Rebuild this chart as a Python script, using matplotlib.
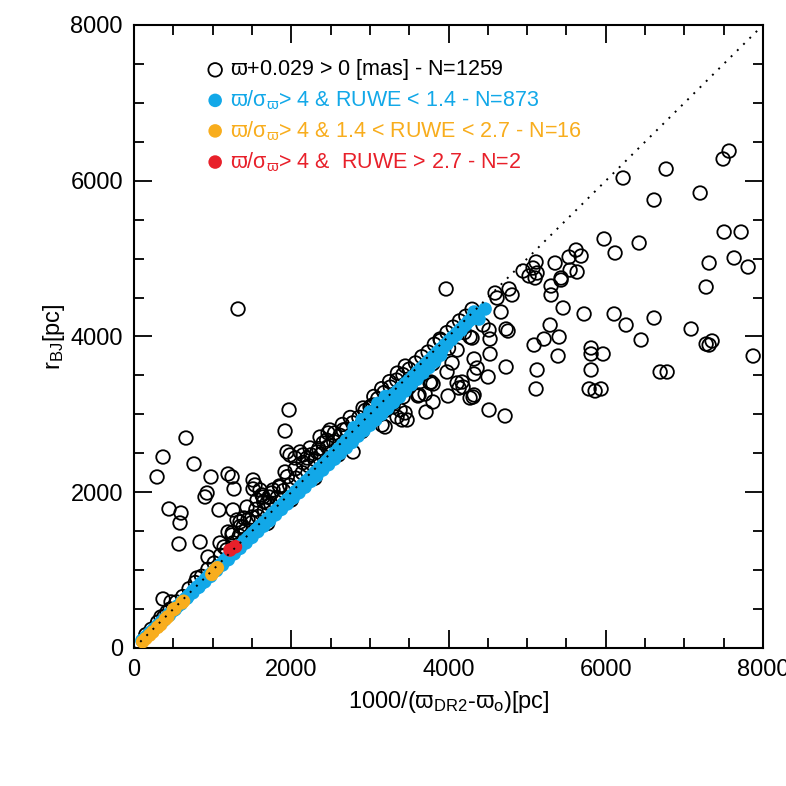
import numpy as np
import matplotlib.pyplot as plt

plt.rcParams['font.family'] = ['Liberation Sans', 'DejaVu Sans']
plt.rcParams['mathtext.fontset'] = 'custom'
plt.rcParams['mathtext.rm'] = 'Liberation Sans'
plt.rcParams['mathtext.it'] = 'Liberation Sans'
plt.rcParams['mathtext.bf'] = 'Liberation Sans:bold'

BLUE = '#12a8e8'
ORANGE = '#f8ad1d'
RED = '#e8202a'

# open circles: all stars with parallax + 0.029 > 0 (visible ones)
all_x = [6220, 6767, 6614, 7200, 7492, 7568, 5978, 6118, 6424, 7505, 7721, 7314, 7632, 7810,
         5355, 5533, 5622, 5686, 5546, 5635, 4948, 5113, 5075, 5126, 5431, 7276, 7874, 5724,
         6106, 6258, 6614, 6449, 7085, 7276, 7314, 7352, 6691, 6780, 5813, 5813, 5966, 5813,
         5788, 5864, 5940, 5457, 5292, 5406, 5215, 5088, 5393, 5126, 5113, 5304, 5304, 5431,
         5024, 5101, 4592, 4617, 4770, 4808, 4668, 4732, 4757, 4528, 4528, 4732, 4503, 4515,
         4719, 4325, 4363, 4325, 4325, 4274, 4439, 4515, 4299, 3969, 4172, 4185, 4134, 4109,
         3981, 4045, 3994, 3803, 3625, 3702, 3714, 3803, 3778, 3447, 3473, 3409, 4109, 3892,
         4274, 4312, 3765, 3612, 3511, 3422, 3294, 3345, 3384, 3193, 3155, 3193, 3040, 3002,
         2913, 2658, 2493, 2786,
         1972, 1921, 1323, 1514, 1539, 1437, 1921, 1946, 1984, 2112, 2150, 2048, 2201, 2366,
         2468, 2404, 2328, 2239, 2595, 2748, 2811, 2875, 2964, 3027, 3002, 1603, 1641, 1692,
         1565, 1768, 1857, 1348, 1386, 661, 369, 293, 763, 979, 1196, 1247, 1272, 929, 903,
         445, 598, 585, 572, 1081, 1259, 840, 941, 1514, 1196, 1094, 1145, 1247, 801, 369,
         471, 343, 420, 1628, 1717, 1399, 1501, 1310,
         150, 220, 300, 380, 460, 540, 620, 700, 780, 860, 940, 1020, 1100, 1180, 1260, 1340,
         1420, 1500, 1580, 1660, 1740, 1820, 1900, 1980, 2060, 2140, 2220, 2300, 2380, 2460,
         2540, 2620, 2700, 2780, 2860, 2940, 3020, 3100, 3180, 3260, 3340, 3420, 3500, 3580,
         3660, 3740, 3820, 3900, 3980, 4060, 4140, 4220, 4300,
         1700, 2000, 2300, 2600, 2900, 3200, 3500, 3800, 4000, 4200, 3300, 3650,
         1250, 1350, 1450, 1550, 1650, 1750, 1850, 1950, 2050, 2150, 2250, 2350, 2450, 2550,
         2650, 2750, 3050, 3150, 3250, 3350, 3450]
all_y = [6035, 6150, 5752, 5842, 6279, 6381, 5252, 5072, 5200, 5341, 5341, 4943, 5008, 4892,
         4943, 5020, 5110, 5033, 4853, 4828, 4841, 4956, 4879, 4815, 4751, 4635, 3749, 4289,
         4289, 4147, 4237, 3955, 4096, 3903, 3890, 3942, 3544, 3544, 3852, 3775, 3775, 3570,
         3326, 3300, 3326, 4366, 4147, 3993, 3967, 3890, 3749, 3570, 3326, 4648, 4533, 4725,
         4777, 4751, 4558, 4494, 4610, 4533, 4314, 4096, 4070, 3967, 3775, 3608, 3480, 3056,
         2979, 3711, 3595, 3518, 3249, 3210, 4147, 4083, 3980, 4610, 3415, 3351, 3338, 3403,
         3544, 3659, 3236, 3159, 3249, 3261, 3030, 3390, 3415, 3018, 2928, 2928, 3826, 3967,
         3993, 3223, 3403, 3236, 3377, 3223, 3094, 2966, 3056, 3094, 2863, 2838, 3120, 3018,
         3082, 2799, 2799, 2517,
         3056, 2786, 4353, 2157, 2093, 1810, 2260, 2517, 2478, 2517, 2478, 2440, 2440, 2709,
         2761, 2632, 2517, 2568, 2568, 2671, 2761, 2799, 2902, 2992, 3094, 2029, 1939, 1862,
         1900, 2029, 2067, 1618, 1554, 2696, 2452, 2196, 2363, 2196, 2234, 2196, 2042, 1990, 1939,
         1785, 1733, 1605, 1335, 1772, 1772, 1361, 1168, 2042, 1489, 1348, 1297, 1451, 899, 629,
         591, 398, 462, 1965, 1939, 1669, 1682, 1644,
         170, 240, 330, 400, 500, 590, 660, 760, 840, 920, 1010, 1090, 1190, 1260, 1350, 1440,
         1510, 1610, 1690, 1770, 1850, 1930, 2020, 2090, 2180, 2250, 2340, 2420, 2490, 2580,
         2650, 2730, 2810, 2890, 2960, 3050, 3110, 3200, 3280, 3350, 3440, 3510, 3580, 3660,
         3740, 3800, 3900, 3950, 4050, 4120, 4200, 4260, 4350,
         1600, 1900, 2180, 2480, 2780, 3050, 3350, 3650, 3850, 4050, 3150, 3500,
         1480, 1560, 1650, 1780, 1880, 1990, 2080, 2200, 2300, 2380, 2480, 2560, 2670, 2760,
         2870, 2960, 3230, 3330, 3420, 3530, 3620]

# filled: parallax/sigma > 4, RUWE < 1.4
good_x = [110, 160, 210, 260, 320, 380, 440, 500, 560, 620, 680, 740, 800, 860, 920, 980,
          1040, 1100, 1160, 1220, 1280, 1340, 1400, 1460, 1520, 1580, 1640, 1700, 1760, 1820,
          1880, 1940, 2000, 2060, 2120, 2180, 2240, 2300, 2360, 2420, 2480, 2540, 2600, 2660,
          2720, 2780, 2840, 2900, 2960, 3020, 3080, 3140, 3200, 3260, 3320, 3380, 3440, 3500,
          3560, 3620, 3680, 3740, 3800, 3860, 3920, 3980, 4040, 4100, 4160, 4220, 4290, 4325,
          4388, 4465,
          100, 150, 200, 250, 300, 350, 400, 450, 500, 550, 600, 650, 700, 750, 800, 850,
          900, 950, 1000, 1050, 1100, 1150, 1200, 1250, 1300, 1350, 1400, 1450, 1500, 1550,
          1600, 1650, 1700, 1750, 1800, 1850, 1900, 1950, 2000, 2050, 2100, 2150, 2200, 2250,
          2300, 2350, 2400, 2450, 2500, 2550, 2600, 2650, 2700, 2750, 2800, 2850, 2900, 2950,
          3000, 3050, 3100, 3150, 3200, 3250, 3300, 3350, 3400, 3450, 3500, 3550, 3600, 3650,
          3700, 3750, 3800, 3850, 3900, 3950, 4000, 4050, 4100, 4150, 4200, 4250, 4300,
          300, 375, 450, 525, 600, 675, 750, 825, 900, 975, 1050, 1125, 1200, 1275, 1350, 1425,
          1500, 1575, 1650, 1725, 1800, 1875, 1950, 2025, 2100, 2175, 2250, 2325, 2400, 2475,
          2550, 2625, 2700, 2775, 2850, 2925, 3000, 3075, 3150, 3225, 3300, 3375, 3450, 3525,
          3600, 3675, 3750, 3825, 3900,
          2800, 2900, 3000, 3100, 3200]
good_y = [105, 150, 200, 250, 305, 365, 425, 480, 540, 600, 655, 715, 775, 830, 895, 950,
          1010, 1065, 1130, 1185, 1245, 1300, 1360, 1425, 1480, 1540, 1600, 1655, 1720, 1775,
          1830, 1895, 1950, 2010, 2075, 2130, 2185, 2250, 2310, 2360, 2430, 2480, 2545, 2600,
          2660, 2725, 2775, 2840, 2900, 2950, 3020, 3070, 3140, 3190, 3260, 3300, 3370, 3430,
          3480, 3550, 3600, 3670, 3720, 3790, 3830, 3900, 3960, 4020, 4080, 4150, 4220, 4314,
          4224, 4353,
          95, 140, 195, 240, 290, 340, 385, 440, 485, 535, 585, 630, 680, 735, 780, 830,
          875, 930, 975, 1025, 1070, 1125, 1170, 1220, 1270, 1320, 1370, 1415, 1465, 1515,
          1565, 1610, 1660, 1710, 1760, 1810, 1855, 1905, 1955, 2005, 2050, 2100, 2150, 2200,
          2250, 2300, 2350, 2400, 2450, 2505, 2555, 2610, 2665, 2720, 2775, 2830, 2880, 2930,
          2975, 3020, 3065, 3110, 3160, 3210, 3255, 3300, 3345, 3395, 3440, 3490, 3540, 3590,
          3640, 3690, 3740, 3790, 3840, 3890, 3940, 3990, 4040, 4090, 4140, 4190, 4240,
          275, 350, 420, 495, 565, 640, 710, 780, 850, 920, 995, 1065, 1135, 1210, 1280, 1350,
          1420, 1495, 1565, 1635, 1710, 1780, 1850, 1925, 1995, 2065, 2140, 2210, 2285, 2355,
          2425, 2500, 2570, 2640, 2720, 2790, 2860, 2930, 3000, 3075, 3150, 3220, 3300, 3380,
          3450, 3530, 3600, 3680, 3760,
          2830, 2930, 3030, 3140, 3230]

# 1.4 < RUWE < 2.7
mid_x = [110, 150, 200, 240, 300, 340, 400, 430, 500, 520, 610, 630, 990, 1010, 1040, 1060]
mid_y = [80, 120, 165, 205, 265, 300, 370, 400, 490, 505, 580, 600, 945, 975, 1010, 1030]

# RUWE > 2.7
bad_x = [1221, 1290]
bad_y = [1258, 1300]

fig = plt.figure(figsize=(7.86, 7.86), dpi=100)
ax = fig.add_axes([0.1705, 0.1756, 0.8003, 0.7926])

ax.scatter(all_x, all_y, s=95, facecolors='none', edgecolors='black', linewidths=1.3, zorder=2)
ax.scatter(good_x, good_y, s=95, color=BLUE, edgecolors='none', zorder=3)
ax.scatter(mid_x, mid_y, s=95, color=ORANGE, edgecolors='none', zorder=4)
ax.scatter(bad_x, bad_y, s=95, color=RED, edgecolors='none', zorder=5)
ax.plot([0, 8000], [0, 8000], color='black', linestyle=(0, (1, 3.5)), linewidth=1.4, zorder=6)

ax.set_xlim(0, 8000)
ax.set_ylim(0, 8000)
ax.set_xticks([0, 2000, 4000, 6000, 8000])
ax.set_yticks([0, 2000, 4000, 6000, 8000])
ax.set_xticks(np.arange(0, 8001, 500), minor=True)
ax.set_yticks(np.arange(0, 8001, 500), minor=True)
ax.tick_params(which='both', direction='in', top=True, right=True, width=1.3, labelsize=17)
ax.tick_params(which='major', length=13, pad=8)
ax.tick_params(which='minor', length=7)
for sp in ax.spines.values():
    sp.set_linewidth(1.5)

ax.set_xlabel(r'1000/($\varpi_{\rm DR2}$-$\varpi_{\rm o}$)[pc]', fontsize=17, labelpad=6)
ax.set_ylabel(r'r$_{\rm BJ}$[pc]', fontsize=17, labelpad=2)

rows = [
    ('none', 'black', r'$\varpi$+0.029 > 0 [mas] - N=1259'),
    (BLUE, BLUE, r'$\varpi/\sigma_{\varpi}$> 4 & RUWE < 1.4 - N=873'),
    (ORANGE, ORANGE, r'$\varpi/\sigma_{\varpi}$> 4 & 1.4 < RUWE < 2.7 - N=16'),
    (RED, RED, r'$\varpi/\sigma_{\varpi}$> 4 &  RUWE > 2.7 - N=2'),
]
ys = [0.928, 0.879, 0.830, 0.780]
for (fc, col, txt), yy in zip(rows, ys):
    ax.scatter([0.129], [yy], s=95, transform=ax.transAxes, facecolors=fc,
               edgecolors=('black' if fc == 'none' else 'none'), linewidths=1.3, zorder=7)
    ax.text(0.152, yy, txt, transform=ax.transAxes, color=col, fontsize=15.5,
            va='center', ha='left', zorder=7)

fig.savefig('out.png', dpi=100)
